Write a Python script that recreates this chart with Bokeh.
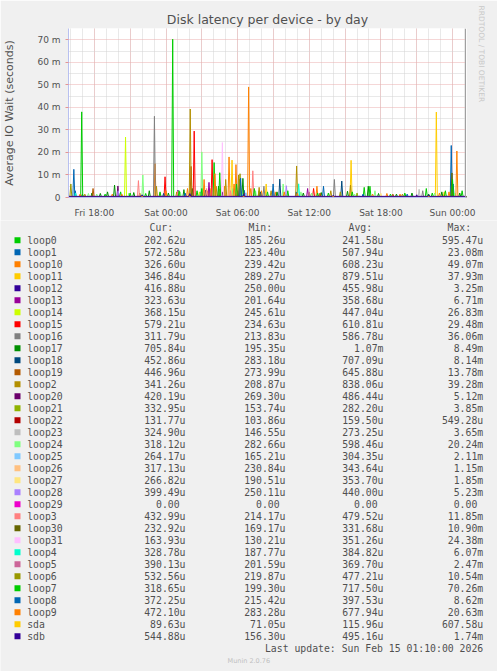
from bokeh.plotting import figure
from bokeh.models import FixedTicker, Range1d, Span, Title
from bokeh.layouts import column
from bokeh.core.properties import value
from bokeh.embed import file_html
from bokeh.resources import INLINE

title = "Disk latency per device - by day"
y_title = "Average IO Wait (seconds)"
vendor = "RRDTOOL / TOBI OETIKER"
updated = "Last update: Sun Feb 15 01:10:00 2026"
footer = "Munin 2.0.76"

# x is hours since Fri 00:00
t_start = 15 + 50 / 60
t_end = 49 + 10 / 60
tick_hours = [18, 24, 30, 36, 42, 48]
tick_labels = ["Fri 18:00", "Sat 00:00", "Sat 06:00", "Sat 12:00", "Sat 18:00", "Sun 00:00"]
y_ticks = [0, 10, 20, 30, 40, 50, 60, 70]
y_tick_labels = ["0", "10 m", "20 m", "30 m", "40 m", "50 m", "60 m", "70 m"]

names = ["loop0", "loop1", "loop10", "loop11", "loop12", "loop13", "loop14", "loop15",
         "loop16", "loop17", "loop18", "loop19", "loop2", "loop20", "loop21", "loop22",
         "loop23", "loop24", "loop25", "loop26", "loop27", "loop28", "loop29", "loop3",
         "loop30", "loop31", "loop4", "loop5", "loop6", "loop7", "loop8", "loop9", "sda", "sdb"]
colors = ["#00CC00", "#0066B3", "#FF8000", "#FFCC00", "#330099", "#990099", "#CCFF00", "#FF0000",
          "#808080", "#008F00", "#00487D", "#B35A00", "#B38F00", "#6B006B", "#8FB300", "#B30000",
          "#BEBEBE", "#80FF80", "#80C9FF", "#FFC080", "#FFE680", "#AA80FF", "#EE00CC", "#FF8080",
          "#666600", "#FFBFFF", "#00FFCC", "#CC6699", "#999900", "#00CC00", "#0066B3", "#FF8000",
          "#FFCC00", "#330099"]
cur = ["202.62u", "572.58u", "326.60u", "346.84u", "416.88u", "323.63u", "368.15u", "579.21u",
       "311.79u", "705.84u", "452.86u", "446.96u", "341.26u", "420.19u", "332.95u", "131.77u",
       "324.90u", "318.12u", "264.17u", "317.13u", "266.82u", "399.49u", "0.00", "432.99u",
       "232.92u", "163.93u", "328.78u", "390.13u", "532.56u", "318.65u", "372.25u", "472.10u",
       "89.63u", "544.88u"]
mins = ["185.26u", "223.40u", "239.42u", "289.27u", "250.00u", "201.64u", "245.61u", "234.63u",
        "213.83u", "195.35u", "283.18u", "273.99u", "208.87u", "269.30u", "153.74u", "103.86u",
        "146.55u", "282.66u", "165.21u", "230.84u", "190.51u", "250.11u", "0.00", "214.17u",
        "169.17u", "130.21u", "187.77u", "201.59u", "219.87u", "199.30u", "215.42u", "283.28u",
        "71.05u", "156.30u"]
avgs = ["241.58u", "507.94u", "608.23u", "879.51u", "455.98u", "358.68u", "447.04u", "610.81u",
        "586.78u", "1.07m", "707.09u", "645.88u", "838.06u", "486.44u", "282.20u", "159.50u",
        "273.25u", "598.46u", "304.35u", "343.64u", "353.70u", "440.00u", "0.00", "479.52u",
        "331.68u", "351.26u", "384.82u", "369.70u", "477.21u", "717.50u", "397.53u", "677.94u",
        "115.96u", "495.16u"]
maxs = ["595.47u", "23.08m", "49.07m", "37.93m", "3.25m", "6.71m", "26.83m", "29.48m",
        "36.06m", "8.49m", "8.14m", "13.78m", "39.28m", "5.12m", "3.85m", "549.28u",
        "3.65m", "20.24m", "2.11m", "1.15m", "1.85m", "5.23m", "0.00", "11.85m",
        "10.90m", "24.38m", "6.07m", "2.47m", "10.54m", "70.26m", "8.62m", "20.63m",
        "607.58u", "1.74m"]

# resting level of each line (ms)
base_ms = [0.22, 0.3, 0.3, 0.35, 0.3, 0.25, 0.3, 0.3, 0.3, 0.4, 0.35, 0.35, 0.35, 0.35, 0.2, 0.15,
           0.2, 0.35, 0.2, 0.25, 0.25, 0.3, 0.0, 0.3, 0.25, 0.2, 0.25, 0.25, 0.3, 0.4, 0.3, 0.35,
           0.09, 0.5]

# peaks: (hour, ms)
peaks = {
    "loop0": [(17.3, 0.6), (22.5, 0.55), (31.0, 0.59), (40.2, 0.5)],
    "loop1": [(16.28, 12.5), (16.4, 3.0), (26.9, 2.5), (30.55, 3.2), (34.9, 2.5), (44.2, 1.5),
              (47.89, 23.08), (48.05, 6.0)],
    "loop10": [(19.5, 1.5), (23.08, 15.0), (25.8, 4.0), (27.5, 3.0), (28.9, 5.0), (29.28, 18.0),
               (29.86, 14.6), (30.92, 49.07), (32.0, 3.0), (33.2, 2.5), (36.64, 5.0), (42.5, 1.8),
               (47.7, 2.5)],
    "loop11": [(27.7, 4.0), (29.53, 16.6), (32.39, 6.0), (39.5, 16.5), (46.64, 37.93), (47.3, 2.5)],
    "loop12": [(25.0, 3.25), (33.0, 1.5), (45.0, 1.2)],
    "loop13": [(27.6, 6.71), (30.6, 2.0), (35.86, 4.0)],
    "loop14": [(20.61, 26.83), (26.8, 2.5)],
    "loop15": [(23.92, 9.2), (26.36, 29.48), (27.86, 16.8), (30.0, 3.0), (36.36, 4.0)],
    "loop16": [(23.03, 36.06), (32.2, 5.0), (38.1, 8.0), (45.5, 3.0)],
    "loop17": [(17.0, 1.5), (17.8, 2.0), (18.5, 1.8), (19.1, 2.5), (19.69, 5.5), (21.3, 2.2), (22.6, 3.0),
               (24.2, 2.0), (25.5, 3.5), (28.4, 5.0), (30.44, 8.49), (31.8, 3.0), (33.3, 2.5), (35.5, 2.0),
               (37.0, 2.2), (39.2, 2.8), (40.94, 5.0), (41.8, 1.8), (43.3, 1.5), (44.6, 2.0), (46.0, 1.5),
               (47.1, 2.5), (48.6, 2.0)],
    "loop18": [(23.8, 1.8), (27.3, 3.2), (30.15, 8.0), (31.9, 2.5), (33.53, 8.14), (38.72, 7.3)],
    "loop19": [(17.89, 4.0), (26.1, 13.78), (33.0, 3.0), (36.9, 2.0), (43.0, 1.5)],
    "loop2": [(17.2, 1.5), (21.8, 2.0), (23.2, 5.0), (24.9, 2.5), (26.03, 39.28), (28.2, 5.0), (29.0, 8.0),
              (30.08, 10.0), (31.8, 4.5), (32.8, 3.0), (34.94, 14.0), (36.0, 2.0), (37.8, 3.0),
              (39.45, 5.5), (43.8, 1.5), (47.95, 5.0)],
    "loop20": [(19.97, 5.12), (28.7, 2.5)],
    "loop21": [(28.5, 3.85), (40.0, 2.0)],
    "loop22": [(22.0, 0.55), (35.0, 0.5)],
    "loop23": [(33.0, 3.0), (45.2, 3.65)],
    "loop24": [(17.5, 1.8), (18.2, 1.5), (20.9, 2.0), (22.06, 10.0), (25.2, 2.5), (27.0, 20.24),
               (29.6, 4.0), (31.5, 3.0), (33.81, 6.0), (35.3, 2.5), (36.2, 2.0), (39.8, 1.5),
               (41.5, 3.0), (44.0, 1.5), (46.5, 2.0), (48.2, 2.0)],
    "loop25": [(30.7, 2.11)],
    "loop26": [(24.0, 1.15)],
    "loop27": [(42.0, 1.85)],
    "loop28": [(20.0, 3.0), (34.08, 5.23)],
    "loop29": [],
    "loop3": [(21.69, 7.5), (23.5, 2.0), (25.0, 3.0), (27.4, 4.0), (29.4, 3.0), (31.27, 11.85)],
    "loop30": [(26.2, 4.0), (47.95, 10.9)],
    "loop31": [(28.72, 24.38)],
    "loop4": [(16.42, 2.0), (30.3, 2.5), (35.11, 6.07)],
    "loop5": [(36.0, 2.47)],
    "loop6": [(16.03, 6.0), (30.2, 10.54), (38.6, 2.5)],
    "loop7": [(16.94, 38.0), (18.9, 1.5), (20.2, 2.5), (21.0, 2.0), (22.3, 1.8), (23.5, 2.5),
              (24.56, 70.26), (25.1, 3.0), (26.6, 3.0), (27.0, 4.0), (28.03, 15.5), (28.5, 11.0),
              (29.9, 6.0), (31.4, 4.0), (32.5, 2.5), (34.2, 3.0), (36.7, 2.0), (37.6, 2.0),
              (39.6, 2.5), (40.6, 4.5), (41.08, 5.0), (42.8, 1.5), (44.0, 2.0), (45.8, 4.0),
              (46.3, 2.0), (47.4, 3.0), (48.0, 8.0), (48.8, 3.0)],
    "loop8": [(25.6, 2.0), (30.25, 8.62), (32.97, 6.0), (37.19, 5.0), (40.5, 1.5)],
    "loop9": [(16.8, 1.5), (20.3, 1.5), (24.0, 3.0), (27.19, 8.0), (28.1, 10.6), (29.7, 6.0),
              (31.1, 4.0), (33.9, 2.5), (35.0, 2.0), (41.3, 1.5), (43.6, 1.5), (46.9, 2.0), (48.36, 20.63)],
    "sda": [(19.0, 0.6), (33.0, 0.5)],
    "sdb": [(22.0, 1.2), (26.0, 1.74), (30.5, 1.3), (38.0, 1.0), (46.0, 1.2)],
}

TXT = "#505050"
BG = "#F0F0F0"
AXIS = "#B8C0F0"
step = 1 / 12  # one 5 minute sample

p = figure(width=497, height=220, x_range=Range1d(t_start, t_end), y_range=Range1d(0, 75),
           min_border_left=67, min_border_right=30, min_border_top=28, min_border_bottom=17,
           toolbar_location=None, output_backend="svg", background_fill_color="white",
           border_fill_color=BG, outline_line_color=None)
p.frame_align = False

p.xaxis.ticker = FixedTicker(ticks=tick_hours)
p.xaxis.major_label_overrides = dict(zip(tick_hours, tick_labels))
p.yaxis.ticker = FixedTicker(ticks=y_ticks)
p.yaxis.major_label_overrides = dict(zip(y_ticks, y_tick_labels))
for ax in (p.xaxis[0], p.yaxis[0]):
    ax.axis_line_color = AXIS
    ax.minor_tick_line_color = None
    ax.major_label_text_font = "DejaVu Sans"
    ax.major_label_text_font_size = "9px"
    ax.major_label_text_color = TXT
p.xaxis.major_tick_line_color = None
p.xaxis.major_label_standoff = 4
p.yaxis.major_tick_line_color = "#E49494"
p.yaxis.major_tick_out = 3
p.yaxis.major_tick_in = 0
p.yaxis.major_label_standoff = 5
p.yaxis.axis_label = y_title
p.yaxis.axis_label_standoff = 18
p.yaxis.axis_label_text_font = "DejaVu Sans"
p.yaxis.axis_label_text_font_size = "11px"
p.yaxis.axis_label_text_font_style = "normal"
p.yaxis.axis_label_text_color = TXT

p.xgrid.ticker = FixedTicker(ticks=list(range(18, 49, 3)), minor_ticks=list(range(16, 50)))
p.ygrid.ticker = FixedTicker(ticks=y_ticks, minor_ticks=[5, 15, 25, 35, 45, 55, 65, 75])
for g in (p.xgrid[0], p.ygrid[0]):
    g.grid_line_color = "#EBAFAF"
    g.grid_line_dash = "1 1"
    g.minor_grid_line_color = "#D2D2D2"
    g.minor_grid_line_dash = "1 1"

for name, color, base in zip(names, colors, base_ms):
    xs, ys = [t_start], [base]
    for h, v in sorted(peaks[name]):
        xs += [h - step, h, h + step]
        ys += [base, v, base]
    xs.append(t_end)
    ys.append(base)
    p.line(xs, ys, line_color=color, line_width=1)

# vertical rule at the right edge of the graph
p.add_layout(Span(location=t_end - 1 / 12, dimension="height", line_color="#A0A0A0", line_width=1))

p.add_layout(Title(text=title, align="center", text_font="DejaVu Sans", text_font_size="12.5px",
                   text_font_style="normal", text_color=TXT, standoff=4), "above")
p.add_layout(Title(text=vendor, align="left", offset=-23, text_font="DejaVu Sans",
                   text_font_size="7.5px", text_font_style="normal", text_color="#C8C8C8",
                   standoff=20), "right")

# legend block below the graph, one pixel per unit
leg = figure(width=497, height=451, x_range=Range1d(0, 497), y_range=Range1d(451, 0),
             min_border=0, toolbar_location=None, output_backend="svg", x_axis_type=None,
             y_axis_type=None, background_fill_color=BG, border_fill_color=BG,
             outline_line_color=None)
leg.frame_align = False
leg.grid.visible = False

mono = value("DejaVu Sans Mono")
fs = "9.8px"
cw = 5.9
row_y = [19.7 + 12 * i for i in range(len(names))]

leg.rect(x=[17] * len(names), y=row_y, width=6, height=6, fill_color=colors, line_color=None)
leg.text(x=[26.7] * len(names), y=row_y, text=names, text_align="left", text_baseline="middle",
         text_font=mono, text_font_size=fs, text_color=TXT)

headers = ["Cur:", "Min:", "Avg:", "Max:"]
header_x = [149, 248, 348, 447]
leg.text(x=header_x, y=[7] * 4, text=headers, text_align="left", text_baseline="middle",
         text_font=mono, text_font_size=fs, text_color=TXT)

for col, right in zip((cur, mins, avgs, maxs), (185, 285, 383, 482.7)):
    xs = [right - (cw if s[-1].isdigit() else 0) for s in col]
    leg.text(x=xs, y=row_y, text=col, text_align="right", text_baseline="middle",
             text_font=mono, text_font_size=fs, text_color=TXT)

leg.text(x=[482.7], y=[427.7], text=[updated], text_align="right", text_baseline="middle",
         text_font=mono, text_font_size=fs, text_color=TXT)
leg.text(x=[248.3], y=[440.3], text=[footer], text_align="center", text_baseline="middle",
         text_font=value("DejaVu Sans"), text_font_size="6.5px", text_color="#C0C0C0")

out = column(p, leg, spacing=0)
open("out.html", "w").write(file_html(out, INLINE))
